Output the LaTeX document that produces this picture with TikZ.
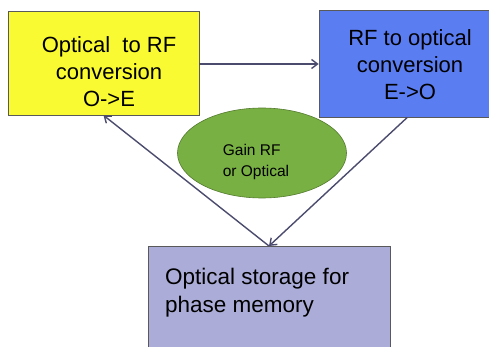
\documentclass[tikz,border=0pt]{standalone}
\usepackage{fontspec}
\setmainfont{Liberation Sans}
\usetikzlibrary{arrows.meta,shapes.geometric,calc}

\definecolor{boxyellow}{HTML}{FAFA32}
\definecolor{boxblue}{HTML}{5B7DF2}
\definecolor{gaingreen}{HTML}{78B043}
\definecolor{storelilac}{HTML}{ABADD8}
\definecolor{flowline}{HTML}{4B4B6E}

\begin{document}
\begin{tikzpicture}[x=1pt,y=-1pt,
    box/.style={draw=gray!70!black, line width=0.6pt, inner sep=0pt},
    boxtext/.style={inner sep=0pt, align=center, font=\fontsize{22}{27}\selectfont},
    flow/.style={draw=flowline, line width=1.4pt, -{Straight Barb[length=6pt,width=9pt]}}
  ]
  \useasboundingbox (0,0) rectangle (489,347);
  \clip (0,0) rectangle (489,347);
  \node[box, fill=boxyellow, minimum width=191, minimum height=104] (o2e) at (103.5,63) {};
  \node[boxtext] (o2etxt) at (109,72) {Optical~~to RF\\conversion\\O->E};
  \node[box, fill=boxblue, minimum width=170, minimum height=107] (e2o) at (404,63.5) {};
  \node[boxtext] (e2otxt) at (410,65) {RF to optical\\conversion\\E->O};
  \node[ellipse, draw=gaingreen!70!black, line width=0.6pt, fill=gaingreen, minimum width=169,
    minimum height=90, inner sep=0pt] (gain) at (262,153) {};
  \node[inner sep=0pt, align=left, font=\fontsize{15.5}{21}\selectfont] (gaintxt) at (256,162)
    {Gain RF\\or Optical};
  \node[box, fill=storelilac, minimum width=242, minimum height=110, anchor=north] (store) at (269,246) {};
  \node[anchor=north west, align=left, inner sep=0pt, font=\fontsize{22.5}{28}\selectfont] (storetxt)
    at (165,268) {Optical storage for\\phase memory};
  % connectors
  \draw[flow] (o2e.east |- 0,64) -- (e2o.west |- 0,64);
  \draw[flow] ($(e2o.south west)!0.52!(e2o.south east)$) -- (store.north);
  \draw[flow] (store.north) -- (o2e.south);
\end{tikzpicture}
\end{document}
